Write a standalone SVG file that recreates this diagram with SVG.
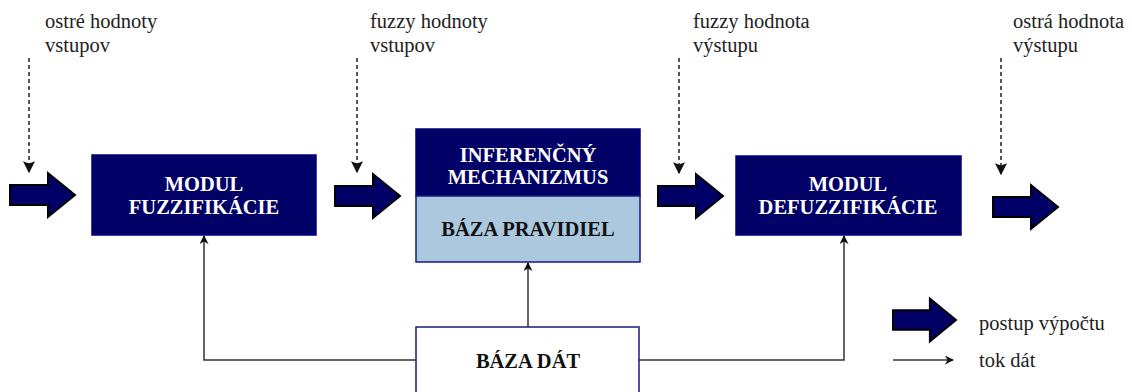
<svg xmlns="http://www.w3.org/2000/svg" width="1132" height="392" viewBox="0 0 1132 392">
<defs>
<style>
.lbl{font-family:"Liberation Serif","Times New Roman",serif;font-size:20.5px;fill:#222}
.bt{font-family:"Liberation Serif","Times New Roman",serif;font-size:20.5px;font-weight:bold;text-anchor:middle}
.w{fill:#fff}
.k{fill:#111}
.navy{fill:#000066;stroke:#000080;stroke-width:1.5}
.big{fill:#000066;stroke:#000;stroke-width:2;stroke-linejoin:miter}
.dash{stroke:#222;stroke-width:1.5;stroke-dasharray:4,3;fill:none}
.flow{stroke:#333;stroke-width:1.5;fill:none}
</style>
<marker id="ah" viewBox="0 0 10 10" refX="9" refY="5" markerWidth="9" markerHeight="9" markerUnits="userSpaceOnUse" orient="auto">
<path d="M0,0 L10,5 L0,10 L3,5 Z" fill="#111"/>
</marker>
<marker id="ah2" viewBox="0 0 10 10" refX="9" refY="5" markerWidth="12" markerHeight="12" markerUnits="userSpaceOnUse" orient="auto">
<path d="M0,0 L10,5 L0,10 L2,5 Z" fill="#111"/>
</marker>
<path id="bigarrow" d="M0,-10 L38,-10 L38,-22 L65,0 L38,22 L38,10 L0,10 Z"/>
</defs>

<g id="labels">
<text class="lbl" x="45" y="28">ostré hodnoty</text>
<text class="lbl" x="45" y="52">vstupov</text>
<text class="lbl" x="370" y="28">fuzzy hodnoty</text>
<text class="lbl" x="370" y="52">vstupov</text>
<text class="lbl" x="693" y="28">fuzzy hodnota</text>
<text class="lbl" x="693" y="52">výstupu</text>
<text class="lbl" x="1013" y="28">ostrá hodnota</text>
<text class="lbl" x="1013" y="52">výstupu</text>
</g>

<g id="flow-arrows">
<use href="#bigarrow" class="big" x="10" y="195"/>
<use href="#bigarrow" class="big" x="335" y="196"/>
<use href="#bigarrow" class="big" x="658" y="196"/>
<use href="#bigarrow" class="big" x="993" y="207"/>
</g>

<g id="connectors">
<line class="dash" x1="29" y1="58" x2="29" y2="172" marker-end="url(#ah2)"/>
<line class="dash" x1="357" y1="58" x2="357" y2="172" marker-end="url(#ah2)"/>
<line class="dash" x1="679" y1="58" x2="679" y2="173" marker-end="url(#ah2)"/>
<line class="dash" x1="1001" y1="58" x2="1001" y2="174" marker-end="url(#ah2)"/>
<polyline class="flow" points="416,360 204,360 204,236" marker-end="url(#ah)"/>
<line class="flow" x1="528" y1="327" x2="528" y2="263" marker-end="url(#ah)"/>
<polyline class="flow" points="639,360 844,360 844,236" marker-end="url(#ah)"/>
</g>

<g id="fuzzifikacia">
<rect class="navy" x="92" y="155" width="224" height="80"/>
<text class="bt w" x="204" y="191">MODUL</text>
<text class="bt w" x="204" y="214">FUZZIFIKÁCIE</text>
</g>

<g id="inferencny-mechanizmus">
<rect class="navy" x="416" y="129" width="224" height="67"/>
<text class="bt w" x="528" y="162">INFERENČNÝ</text>
<text class="bt w" x="528" y="184">MECHANIZMUS</text>
</g>

<g id="baza-pravidiel">
<rect x="416" y="196" width="224" height="66" fill="#abc8de" stroke="#1a1a80" stroke-width="1.5"/>
<text class="bt k" x="528" y="236">BÁZA PRAVIDIEL</text>
</g>

<g id="defuzzifikacia">
<rect class="navy" x="736" y="156" width="225" height="79"/>
<text class="bt w" x="848" y="191">MODUL</text>
<text class="bt w" x="848" y="214">DEFUZZIFIKÁCIE</text>
</g>

<g id="baza-dat">
<rect x="416" y="327" width="223" height="70" fill="#fff" stroke="#1a1a80" stroke-width="1.5"/>
<text class="bt k" x="528" y="368">BÁZA DÁT</text>
</g>

<g id="legend">
<use href="#bigarrow" class="big" x="893" y="320" transform="translate(893,320) scale(0.97) translate(-893,-320)"/>
<text class="lbl" x="979" y="330">postup výpočtu</text>
<line class="flow" x1="893" y1="360" x2="953" y2="360" marker-end="url(#ah)"/>
<text class="lbl" x="979" y="367">tok dát</text>
</g>
</svg>
